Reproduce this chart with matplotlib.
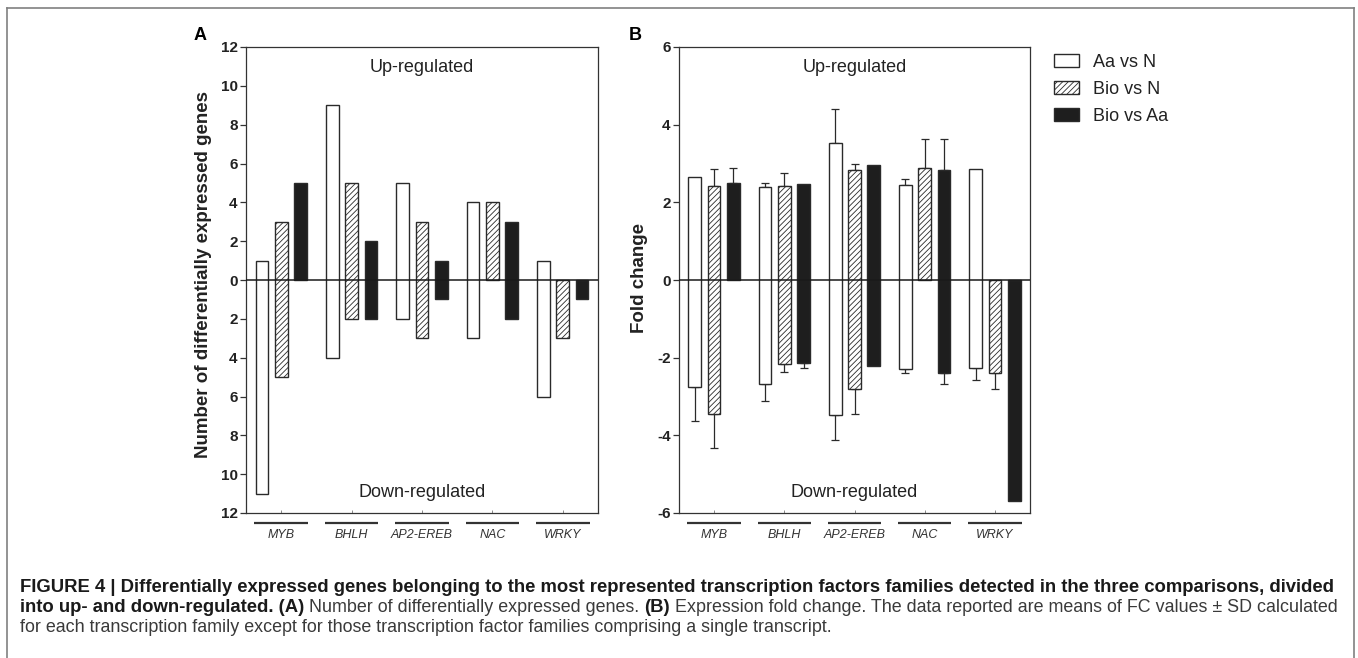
import matplotlib
matplotlib.use('Agg')
import matplotlib.pyplot as plt
import numpy as np
from matplotlib.lines import Line2D
from matplotlib.transforms import blended_transform_factory

plt.rcParams['font.family'] = ['Liberation Sans', 'DejaVu Sans']
plt.rcParams['hatch.linewidth'] = 0.6

W, H = 1358, 658

families = ['MYB', 'BHLH', 'AP2-EREB', 'NAC', 'WRKY']
series = ['Aa vs N', 'Bio vs N', 'Bio vs Aa']

# Panel A: number of differentially expressed genes
a_up_aa_n = [1, 9, 5, 4, 1]
a_down_aa_n = [11, 4, 2, 3, 6]
a_up_bio_n = [3, 5, 3, 4, 0]
a_down_bio_n = [5, 2, 3, 0, 3]
a_up_bio_aa = [5, 2, 1, 3, 0]
a_down_bio_aa = [0, 2, 1, 2, 1]

# Panel B: fold change (mean) and SD
fc_up_aa_n = [2.64, 2.39, 3.54, 2.45, 2.86]
sd_up_aa_n = [0.0, 0.12, 0.86, 0.14, 0.0]
fc_down_aa_n = [-2.75, -2.69, -3.48, -2.30, -2.27]
sd_down_aa_n = [0.88, 0.42, 0.65, 0.10, 0.30]

fc_up_bio_n = [2.43, 2.41, 2.82, 2.89, 0.0]
sd_up_bio_n = [0.42, 0.35, 0.16, 0.75, 0.0]
fc_down_bio_n = [-3.46, -2.16, -2.81, 0.0, -2.40]
sd_down_bio_n = [0.87, 0.20, 0.65, 0.0, 0.40]

fc_up_bio_aa = [2.51, 2.48, 2.95, 2.82, 0.0]
sd_up_bio_aa = [0.37, 0.0, 0.0, 0.80, 0.0]
fc_down_bio_aa = [0.0, -2.15, -2.21, -2.40, -5.70]
sd_down_bio_aa = [0.0, 0.11, 0.0, 0.27, 0.0]

a_ticks = [-12, -10, -8, -6, -4, -2, 0, 2, 4, 6, 8, 10, 12]
a_ticklabels = ['12', '10', '8', '6', '4', '2', '0', '2', '4', '6', '8', '10', '12']
b_ticks = [-6, -4, -2, 0, 2, 4, 6]
b_ticklabels = ['-6', '-4', '-2', '0', '2', '4', '6']

EDGE = '#2a2a2a'
styles = [
    dict(facecolor='white', hatch=None),
    dict(facecolor='white', hatch='//////'),
    dict(facecolor='#1e1e1e', hatch=None),
]
offsets = [-0.275, 0.0, 0.275]
BW = 0.18

fig = plt.figure(figsize=(W / 100, H / 100), dpi=100)


def px_axes(left, top, right, bottom):
    return fig.add_axes([left / W, 1 - bottom / H, (right - left) / W, (bottom - top) / H])


axA = px_axes(246, 47, 598, 513)
axB = px_axes(679, 47, 1030, 513)

x = np.arange(len(families))

# Panel A bars
a_up = [a_up_aa_n, a_up_bio_n, a_up_bio_aa]
a_down = [a_down_aa_n, a_down_bio_n, a_down_bio_aa]
handles = []
for i in range(3):
    up = np.array(a_up[i], dtype=float)
    dn = np.array(a_down[i], dtype=float)
    b = axA.bar(x + offsets[i], up + dn, bottom=-dn, width=BW,
                edgecolor=EDGE, linewidth=1.0, zorder=2, **styles[i])
    handles.append(b)

# Panel B bars
b_up = [fc_up_aa_n, fc_up_bio_n, fc_up_bio_aa]
b_upsd = [sd_up_aa_n, sd_up_bio_n, sd_up_bio_aa]
b_dn = [fc_down_aa_n, fc_down_bio_n, fc_down_bio_aa]
b_dnsd = [sd_down_aa_n, sd_down_bio_n, sd_down_bio_aa]
for i in range(3):
    up = np.array(b_up[i])
    dn = np.array(b_dn[i])
    axB.bar(x + offsets[i], up - dn, bottom=dn, width=BW,
            edgecolor=EDGE, linewidth=1.0, zorder=2, **styles[i])
    usd = np.array(b_upsd[i])
    dsd = np.array(b_dnsd[i])
    m = usd > 0
    if m.any():
        axB.errorbar((x + offsets[i])[m], up[m], yerr=[np.zeros(m.sum()), usd[m]],
                     fmt='none', ecolor=EDGE, elinewidth=0.9, capsize=3.2,
                     capthick=0.9, zorder=1)
    m = dsd > 0
    if m.any():
        axB.errorbar((x + offsets[i])[m], dn[m], yerr=[dsd[m], np.zeros(m.sum())],
                     fmt='none', ecolor=EDGE, elinewidth=0.9, capsize=3.2,
                     capthick=0.9, zorder=1)

for ax, ticks, labels, lim in [(axA, a_ticks, a_ticklabels, 12), (axB, b_ticks, b_ticklabels, 6)]:
    ax.set_xlim(-0.5, len(families) - 0.5)
    ax.set_ylim(-lim, lim)
    ax.axhline(0, color='#1a1a1a', linewidth=1.1, zorder=3)
    ax.set_yticks(ticks)
    ax.set_yticklabels(labels, fontsize=11, fontweight='bold', color='#222222')
    ax.tick_params(axis='y', direction='out', length=4, width=0.9, color='#333333', pad=2)
    ax.set_xticks(x)
    ax.set_xticklabels([])
    ax.tick_params(axis='x', direction='in', length=2, width=0.6, color='#777777')
    for s in ax.spines.values():
        s.set_color('#333333')
        s.set_linewidth(0.9)
    ax.text(0.5, 0.955, 'Up-regulated', transform=ax.transAxes, ha='center', va='center',
            fontsize=13, color='#222222')
    ax.text(0.5, 0.045, 'Down-regulated', transform=ax.transAxes, ha='center', va='center',
            fontsize=13, color='#222222')
    trans = blended_transform_factory(ax.transData, ax.transAxes)
    for xi, fam in zip(x, families):
        ax.plot([xi - 0.38, xi + 0.38], [-0.0215, -0.0215], transform=trans,
                color='#333333', linewidth=1.6, clip_on=False, solid_capstyle='butt')
        ax.text(xi, -0.047, fam, transform=trans, ha='center', va='center',
                fontsize=9, style='italic', color='#333333',
                family=['Liberation Sans Narrow', 'Liberation Sans', 'DejaVu Sans'])

fig.text(203 / W, 1 - 275 / H, 'Number of differentially expressed genes', rotation=90,
         ha='center', va='center', fontsize=13.5, fontweight='bold', color='#222222')
fig.text(640 / W, 1 - 278 / H, 'Fold change', rotation=90,
         ha='center', va='center', fontsize=13.5, fontweight='bold', color='#222222')
fig.text(200 / W, 1 - 36 / H, 'A', ha='center', va='center', fontsize=13, fontweight='bold')
fig.text(635 / W, 1 - 36 / H, 'B', ha='center', va='center', fontsize=13, fontweight='bold')

# Legend
fig.legend(handles, series, loc='upper left', bbox_to_anchor=(1054 / W, 1 - 54 / H),
           frameon=False, fontsize=13, handlelength=1.38, handleheight=0.72,
           handletextpad=0.78, labelspacing=0.55, borderpad=0, borderaxespad=0,
           labelcolor='#222222')

# Figure frame (top, left, right)
fc = '#808080'
fig.add_artist(Line2D([7 / W, 1354 / W], [1 - 8 / H, 1 - 8 / H], color=fc, linewidth=1.2))
fig.add_artist(Line2D([7 / W, 7 / W], [1 - 8 / H, 0], color=fc, linewidth=1.2))
fig.add_artist(Line2D([1354 / W, 1354 / W], [1 - 8 / H, 0], color=fc, linewidth=1.2))

# Caption
renderer = fig.canvas.get_renderer()


def seg_width(txt, size, weight):
    t1 = fig.text(0, 0, '|' + txt + '|', fontsize=size, fontweight=weight)
    t2 = fig.text(0, 0, '||', fontsize=size, fontweight=weight)
    w = t1.get_window_extent(renderer).width - t2.get_window_extent(renderer).width
    t1.remove()
    t2.remove()
    return w


X0, X1 = 20, 1341
line1 = 'FIGURE 4 | Differentially expressed genes belonging to the most represented transcription factors families detected in the three comparisons, divided'
base = 10.0
bsize = base * (X1 - X0) / seg_width(line1, base, 'bold')

line2 = [('into up- and down-regulated. (A)', 'bold'),
         (' Number of differentially expressed genes. ', 'normal'),
         ('(B)', 'bold'),
         (' Expression fold change. The data reported are means of FC values \u00b1 SD calculated', 'normal')]
bold_w = sum(seg_width(t, bsize, w) for t, w in line2 if w == 'bold')
norm_w = sum(seg_width(t, base, w) for t, w in line2 if w == 'normal')
nsize = base * (X1 - X0 - bold_w) / norm_w

caption = [
    [(line1, 'bold')],
    line2,
    [('for each transcription family except for those transcription factor families comprising a single transcript.', 'normal')],
]
ys = [588, 608, 628]
for segs, yp in zip(caption, ys):
    xp = X0
    for txt, wt in segs:
        sz = bsize if wt == 'bold' else nsize
        fig.text(xp / W, 1 - yp / H, txt, fontsize=sz, fontweight=wt,
                 color='#1a1a1a' if wt == 'bold' else '#3a3a3a', ha='left', va='center')
        xp += seg_width(txt, sz, wt)

fig.savefig('out.png', dpi=100)
